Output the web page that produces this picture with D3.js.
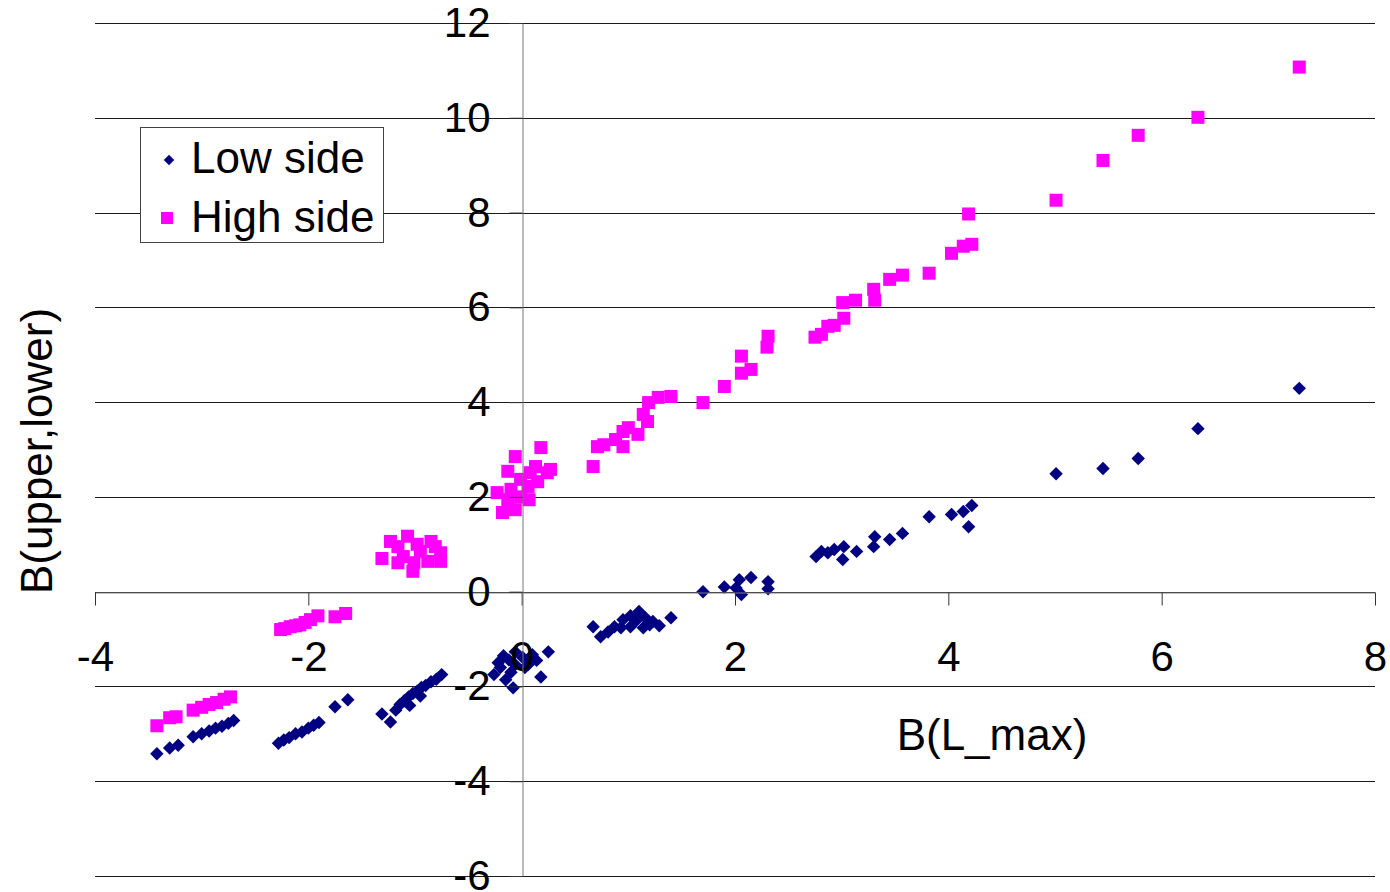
<!DOCTYPE html>
<html>
<head>
<meta charset="utf-8">
<script src="https://cdn.jsdelivr.net/npm/d3@7"></script>
<style>
  body { margin: 0; background: #fff; }
  svg { display: block; }
</style>
</head>
<body>
<svg class="scatter"></svg>
<script>
// Low side (navy diamonds)
var lowX = [-3.42, -3.3, -3.22, -3.08, -3.0, -2.93, -2.87, -2.81, -2.75, -2.7,
    -2.28, -2.23, -2.18, -2.12, -2.06, -2.0, -1.95, -1.9, -1.75, -1.63,
    -1.31, -1.23, -1.18, -1.14, -1.1, -1.06, -1.02, -0.98, -0.94, -0.9, -0.85, -0.8, -0.75, -1.05, -0.95,
    -0.26, -0.2, -0.15, -0.08, -0.12, -0.06, 0.01, 0.06, 0.1, 0.18, 0.25, -0.06, -0.17, -0.22, 0.03, 0.14, -0.1,
    0.67, 0.74, 0.81, 0.87, 0.95, 1.02, 1.1, 1.16, 1.23, 1.29, 1.4, 1.02, 1.14, 0.93, 1.07, 1.2,
    1.7, 1.9, 2.01, 2.04, 2.06, 2.15, 2.31, 2.31,
    2.76, 2.81, 2.87, 2.93, 3.02, 3.01, 3.14, 3.3, 3.31, 3.45, 3.57,
    3.82, 4.03, 4.14, 4.22, 4.19,
    5.01, 5.45, 5.78, 6.34, 7.29];
var lowY = [-3.42, -3.3, -3.24, -3.06, -3.0, -2.94, -2.88, -2.84, -2.78, -2.72,
    -3.2, -3.13, -3.08, -3.0, -2.96, -2.88, -2.82, -2.76, -2.43, -2.28,
    -2.58, -2.75, -2.5, -2.38, -2.3, -2.22, -2.15, -2.1, -2.02, -1.98, -1.9, -1.85, -1.75, -2.4, -2.2,
    -1.75, -1.6, -1.86, -2.03, -1.44, -1.54, -1.39, -1.54, -1.33, -1.8, -1.27, -1.27, -1.35, -1.5, -1.6, -1.45, -1.7,
    -0.74, -0.95, -0.85, -0.74, -0.59, -0.51, -0.42, -0.55, -0.63, -0.72, -0.55, -0.74, -0.76, -0.76, -0.62, -0.7,
    0.0, 0.1, 0.08, 0.25, -0.06, 0.3, 0.21, 0.06,
    0.74, 0.85, 0.82, 0.89, 0.95, 0.68, 0.85, 0.95, 1.16, 1.1, 1.23,
    1.58, 1.63, 1.69, 1.82, 1.37,
    2.49, 2.6, 2.81, 3.44, 4.29];

// High side (magenta squares)
var highX = [-3.42, -3.3, -3.24, -3.08, -3.0, -2.93, -2.86, -2.79, -2.73,
    -2.26, -2.22, -2.17, -2.12, -2.08, -2.03, -1.98, -1.91, -1.75, -1.65,
    -1.31, -1.23, -1.07, -1.02, -1.11, -0.85, -0.76, -0.95, -0.88, -1.16, -0.98, -0.81, -1.16, -1.01, -0.76,
    -0.18, -0.23, -0.13, -0.06, 0.18, 0.13, 0.24, -0.06, 0.07, 0.06, -0.01, 0.15, -0.1, -0.13, -0.01, 0.08, 0.27,
    0.67, 0.71, 0.77, 0.88, 0.95, 0.95, 1.0, 1.09, 1.14, 1.18, 1.19, 1.28, 1.4,
    1.7, 1.9, 2.06, 2.15, 2.06, 2.3, 2.31,
    2.75, 2.81, 2.87, 2.93, 3.02, 3.01, 3.13, 3.3, 3.31, 3.45, 3.57,
    3.82, 4.03, 4.14, 4.22, 4.19,
    5.01, 5.45, 5.78, 6.34, 7.29];
var highY = [-2.83, -2.66, -2.64, -2.5, -2.44, -2.38, -2.34, -2.27, -2.22,
    -0.8, -0.78, -0.74, -0.72, -0.7, -0.65, -0.59, -0.51, -0.53, -0.46,
    0.7, 1.06, 1.17, 0.43, 0.74, 1.06, 0.82, 0.85, 0.64, 0.95, 1.0, 0.95, 0.61, 0.61, 0.64,
    1.67, 2.09, 2.54, 2.85, 3.04, 2.64, 2.51, 1.73, 1.94, 2.22, 2.37, 2.32, 2.16, 1.94, 2.0, 2.51, 2.58,
    2.64, 3.06, 3.1, 3.21, 3.06, 3.38, 3.46, 3.32, 3.74, 3.59, 3.99, 4.1, 4.12,
    3.99, 4.33, 4.61, 4.69, 4.97, 5.16, 5.39,
    5.37, 5.43, 5.6, 5.62, 5.77, 6.1, 6.15, 6.38, 6.15, 6.59, 6.68,
    6.72, 7.14, 7.29, 7.33, 7.97,
    8.26, 9.1, 9.63, 10.01, 11.07];

var xTicks = [-4, -2, 0, 2, 4, 6, 8];
var yTicks = [-6, -4, -2, 0, 2, 4, 6, 8, 10, 12];

var svgWidth = 1390, svgHeight = 892;
var font = "'Liberation Sans', Arial, Helvetica, sans-serif";
var plain = function (d) { return String(d); }; // hyphen minus like the original

var svg = d3.select('svg.scatter')
    .attr("width", svgWidth)
    .attr("height", svgHeight);

var xScale = d3.scaleLinear().domain([-4, 8]).range([95, 1375]),
    yScale = d3.scaleLinear().domain([-6, 12]).range([876, 23]);

var low = lowX.map(function (d, i) { return [d, lowY[i]]; });
var high = highX.map(function (d, i) { return [d, highY[i]]; });

// horizontal gridlines
svg.append("g")
    .selectAll("line")
    .data(yTicks)
    .enter()
    .append("line")
    .attr("x1", xScale(-4))
    .attr("x2", xScale(8))
    .attr("y1", function (d) { return Math.round(yScale(d)) + 0.5; })
    .attr("y2", function (d) { return Math.round(yScale(d)) + 0.5; })
    .style("stroke", "#1a1a1a")
    .style("stroke-width", 1);

// points
svg.append("g")
    .selectAll("path")
    .data(low)
    .enter()
    .append("path")
    .attr("d", d3.symbol().type(d3.symbolDiamond2).size(115))
    .attr("transform", function (d) { return "translate(" + xScale(d[0]) + "," + yScale(d[1]) + ")"; })
    .style("fill", "#000080");

svg.append("g")
    .selectAll("rect")
    .data(high)
    .enter()
    .append("rect")
    .attr("x", function (d) { return xScale(d[0]) - 6.5; })
    .attr("y", function (d) { return yScale(d[1]) - 6.5; })
    .attr("width", 13)
    .attr("height", 13)
    .style("fill", "#ff00ff");

// x axis
var xAxis = svg.append("g")
    .attr("transform", "translate(0," + (Math.round(yScale(0)) + 0.5) + ")")
    .call(d3.axisBottom(xScale).tickValues(xTicks).tickFormat(plain)
        .tickSize(13).tickPadding(36).tickSizeOuter(0));
xAxis.select(".domain").style("stroke", "#808080");
xAxis.selectAll(".tick line").style("stroke", "#333");
xAxis.selectAll("text").style("font-family", font).style("font-size", "42px").style("fill", "#000");

// y axis
var yAxis = svg.append("g")
    .attr("transform", "translate(" + (Math.round(xScale(0)) + 0.5) + ",0)")
    .call(d3.axisLeft(yScale).tickValues(yTicks).tickFormat(plain)
        .tickSize(13).tickPadding(19).tickSizeOuter(0));
yAxis.select(".domain").style("stroke", "#777");
yAxis.selectAll(".tick line").style("stroke", "#333");
yAxis.selectAll("text").style("font-family", font).style("font-size", "42px").style("fill", "#000");

// axis titles
svg.append('text')
    .attr('x', 992)
    .attr('y', 750)
    .attr('text-anchor', 'middle')
    .style('font-family', font)
    .style('font-size', '44px')
    .text('B(L_max)');

svg.append('text')
    .attr('text-anchor', 'middle')
    .attr('transform', 'translate(52,451)rotate(-90)')
    .style('font-family', font)
    .style('font-size', '44px')
    .text('B(upper,lower)');

// legend
var legend = svg.append("g");
legend.append("rect")
    .attr("x", 140.5).attr("y", 127.5)
    .attr("width", 243).attr("height", 115)
    .style("fill", "#fff")
    .style("stroke", "#444");
legend.append("path")
    .attr("d", d3.symbol().type(d3.symbolDiamond2).size(70))
    .attr("transform", "translate(169,160)")
    .style("fill", "#000080");
legend.append("rect")
    .attr("x", 161).attr("y", 212)
    .attr("width", 12).attr("height", 12)
    .style("fill", "#ff00ff");
legend.append("text")
    .attr("x", 191).attr("y", 173)
    .style('font-family', font)
    .style('font-size', '44px')
    .text("Low side");
legend.append("text")
    .attr("x", 191).attr("y", 232)
    .style('font-family', font)
    .style('font-size', '44px')
    .text("High side");
</script>
</body>
</html>
